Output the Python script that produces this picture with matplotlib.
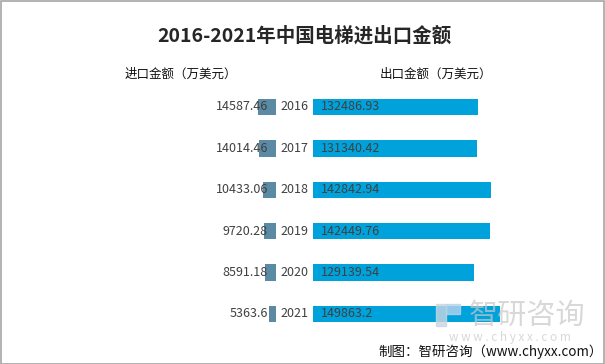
import matplotlib.pyplot as plt
from matplotlib.patches import Rectangle

plt.rcParams['font.family'] = ['Noto Sans CJK SC', 'DejaVu Sans']

# ----------------------------------------------------------------------
# Data
# ----------------------------------------------------------------------
years = ["2016", "2017", "2018", "2019", "2020", "2021"]
import_vals = [14587.46, 14014.46, 10433.06, 9720.28, 8591.18, 5363.6]
export_vals = [132486.93, 131340.42, 142842.94, 142449.76, 129139.54, 149863.2]
import_labels = ["14587.46", "14014.46", "10433.06", "9720.28", "8591.18", "5363.6"]
export_labels = ["132486.93", "131340.42", "142842.94", "142449.76", "129139.54", "149863.2"]

W, H = 605, 364
fig = plt.figure(figsize=(W / 100, H / 100), dpi=100)

text_c = "#404040"
imp_c = "#5B8AA5"
exp_c = "#00A2DB"

px_per_unit = 0.001245
xmax = 200000
ax_w = xmax * px_per_unit

top_px, bot_px = 86.3, 334.7
ax_b = (H - bot_px) / H
ax_h = (bot_px - top_px) / H

ax_l = fig.add_axes([(276 - ax_w) / W, ax_b, ax_w / W, ax_h])
ax_r = fig.add_axes([313 / W, ax_b, ax_w / W, ax_h])

ypos = list(range(len(years)))

ax_l.barh(ypos, import_vals, height=0.4, color=imp_c)
ax_r.barh(ypos, export_vals, height=0.4, color=exp_c)

for ax in (ax_l, ax_r):
    ax.set_xlim(0, xmax)
    ax.set_ylim(5.5, -0.5)
    ax.axis("off")
ax_l.invert_xaxis()

for i in ypos:
    ax_l.text((276 - 268) / px_per_unit, i, import_labels[i], ha="right", va="center",
              fontsize=9, color=text_c, clip_on=False)
    ax_r.text(-(313 - 294) / px_per_unit, i, years[i], ha="center", va="center",
              fontsize=9, color=text_c, clip_on=False)
    ax_r.text(6200, i, export_labels[i], ha="left", va="center",
              fontsize=9, color=text_c, clip_on=False)

# titles
fig.text(304 / W, 1 - 36 / H, "2016-2021年中国电梯进出口金额", ha="center", va="center",
         fontsize=14, fontweight="bold", color="#262626")
fig.text(181 / W, 1 - 74 / H, "进口金额（万美元）", ha="center", va="center",
         fontsize=9, color="#111111")
fig.text(436 / W, 1 - 74 / H, "出口金额（万美元）", ha="center", va="center",
         fontsize=9, color="#111111")

# watermark
fig.text(527 / W, 1 - 316 / H, "智研咨询", ha="center", va="center",
         fontsize=21, color="#c8c8c8", alpha=0.7, zorder=10)
fig.text(510 / W, 1 - 338 / H, "w w w . c h y x x . c o m", ha="center", va="center",
         fontsize=8.5, color="#c8c8c8", alpha=0.7, zorder=10)
fig.patches.append(Rectangle((436 / W, 1 - 326 / H), 10 / W, 22 / H,
                             transform=fig.transFigure, color="#c9d6e3", alpha=0.8, zorder=10))
fig.patches.append(Rectangle((446 / W, 1 - 314 / H), 14 / W, 10 / H,
                             transform=fig.transFigure, color="#b8d4ec", alpha=0.8, zorder=10))

fig.text(603 / W, 1 - 352 / H, "制图：智研咨询（www.chyxx.com）", ha="right", va="center",
         fontsize=9.7, color="#111111")

# border
fig.patches.append(Rectangle((0.5 / W, 0.5 / H), (W - 1.5) / W, (H - 1.5) / H,
                             transform=fig.transFigure, fill=False, edgecolor="#a6a6a6", lw=1.2))

fig.savefig("out.png", dpi=100, facecolor="white")
